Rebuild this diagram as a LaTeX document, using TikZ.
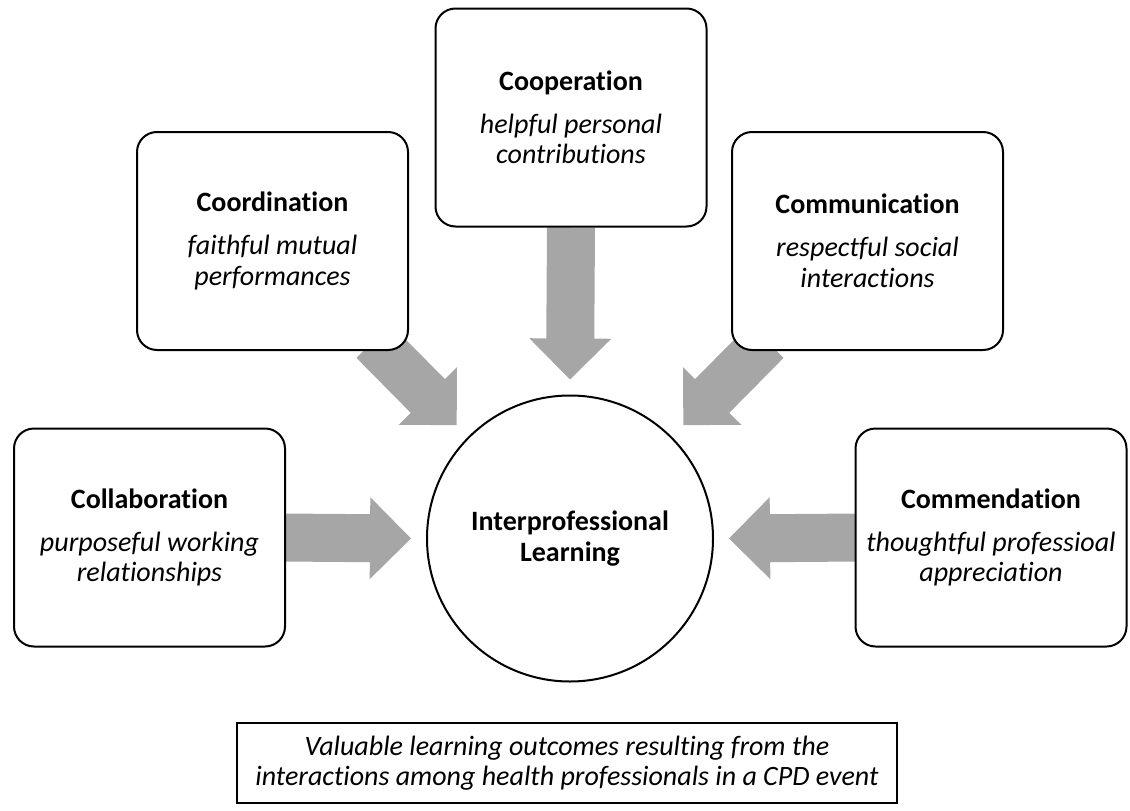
\documentclass[tikz,border=0pt]{standalone}
\usepackage{fontspec}
\setmainfont{Carlito}[Ligatures=NoCommon]
\usetikzlibrary{calc,backgrounds}
\definecolor{arrowgray}{HTML}{A6A6A6}
\tikzset{
  box/.style={draw=black, line width=2pt, fill=white, rounded corners=20pt,
    minimum width=271pt, minimum height=218pt, inner sep=0pt, align=center,
    font=\fontsize{28}{30.5}\selectfont},
  hub/.style={draw=black, circle, line width=2pt, fill=white, minimum size=286pt,
    inner sep=0pt, align=center, font=\fontsize{28}{31}\selectfont\bfseries},
  note/.style={draw=black, line width=2pt, fill=white, minimum width=660pt,
    minimum height=80pt, inner sep=0pt, align=center,
    font=\fontsize{28}{30}\selectfont\itshape},
  blockarrow/.style={fill=arrowgray, draw=none},
}
\newcommand{\blockarrow}[2]{%
  \fill[blockarrow] let \p1=(#1), \p2=(#2),
    \n1={atan2(\y2-\y1,\x2-\x1)}, \n2={veclen(\x2-\x1,\y2-\y1)} in
    [shift={(\p1)}, rotate=\n1]
    (0pt,-24pt) -- ({\n2-41pt},-24pt) -- ({\n2-41pt},-41pt) -- (\n2,0pt)
    -- ({\n2-41pt},41pt) -- ({\n2-41pt},24pt) -- (0pt,24pt) -- cycle;
}
\begin{document}
\begin{tikzpicture}[x=1pt,y=-1pt]
\useasboundingbox (0,0) rectangle (1130,811);

\node[box] (coop) at (571,117.5) {\textbf{Cooperation}\\[12.5pt]\textit{helpful personal}\\\textit{contributions}};
\node[box] (coord) at (272.5,241) {\textbf{Coordination}\\[12.5pt]\textit{faithful mutual}\\\textit{performances}};
\node[box] (comm) at (867.5,241) {\textbf{Communication}\\[12.5pt]\textit{respectful social}\\\textit{interactions}};
\node[box] (collab) at (149.5,537.5) {\textbf{Collaboration}\\[12.5pt]\textit{purposeful working}\\\textit{relationships}};
\node[box] (commend) at (991,537.5) {\textbf{Commendation}\\[12.5pt]\textit{thoughtful professioal}\\\textit{appreciation}};
\node[hub] (ilc) at (570,538.5) {Interprofessional\\Learning};
\node[note] (outcome) at (567,763) {Valuable learning outcomes resulting from the\\interactions among health professionals in a CPD event};

\coordinate (coopS) at (coop.south);
\coordinate (coordS) at ($(coord.south east)+(-35.5pt,10pt)$);
\coordinate (commS) at ($(comm.south west)+(35.5pt,10pt)$);
\coordinate (collabS) at ($(collab.east)+(-5pt,0pt)$);
\coordinate (commendS) at ($(commend.west)+(5pt,0pt)$);
\coordinate (tipN) at ($(ilc.north)!-15pt!(ilc.center)$);
\coordinate (tipNW) at ($(ilc.135)!-16pt!(ilc.center)$);
\coordinate (tipNE) at ($(ilc.45)!-16pt!(ilc.center)$);
\coordinate (tipW) at ($(ilc.west)!-15pt!(ilc.center)$);
\coordinate (tipE) at ($(ilc.east)!-15pt!(ilc.center)$);

\begin{pgfonlayer}{background}
\blockarrow{coopS}{tipN}
\blockarrow{coordS}{tipNW}
\blockarrow{commS}{tipNE}
\blockarrow{collabS}{tipW}
\blockarrow{commendS}{tipE}
\end{pgfonlayer}
\end{tikzpicture}
\end{document}
